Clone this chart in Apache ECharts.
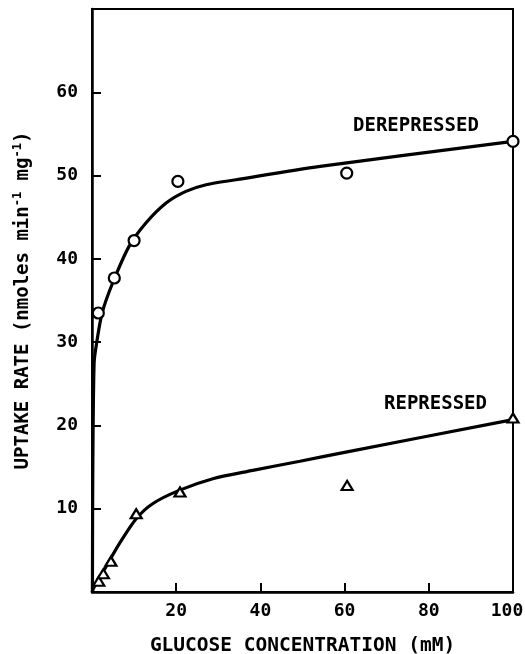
<!DOCTYPE html>
<html><head><meta charset="utf-8">
<script src="https://cdn.jsdelivr.net/npm/echarts@6/dist/echarts.min.js"></script>
<style>html,body{margin:0;padding:0;background:#fff}#c{width:525px;height:654px}</style>
</head><body><div id="c"></div>
<script>
// Measured points
const derepX = [1.5, 5.3, 10, 20.4, 60.5, 100];
const derepY = [33.5, 37.7, 42.2, 49.3, 50.3, 54.1];
const repX = [1.6, 2.7, 4.5, 10.5, 20.9, 60.6, 100];
const repY = [1.3, 2.2, 3.7, 9.4, 12.0, 12.8, 20.9];
// Hand-drawn fitted curves
const derepCurveX = [0.1, 0.2, 0.5, 0.95, 2.4, 4.9, 8.8, 12.8, 17.6, 22.3, 27.1, 34.2, 54.2, 100];
const derepCurveY = [0, 15.5, 27.5, 29.4, 33.5, 37.1, 41.5, 44.3, 46.7, 48.1, 48.9, 49.5, 51.1, 54.1];
const repCurveX = [0, 0.55, 3.3, 6.5, 10.5, 14.4, 20.7, 28.7, 38.2, 49.4, 60.3, 100];
const repCurveY = [0, 0.64, 3.0, 5.8, 8.8, 10.6, 12.2, 13.6, 14.6, 15.7, 16.8, 20.7];
// Tick labels
const xTickLabels = [20, 40, 60, 80, 100];
const yTickLabels = [10, 20, 30, 40, 50, 60];
const seriesNames = ['DEREPRESSED', 'REPRESSED'];

const zip = (a, b) => a.map((v, i) => [v, b[i]]);
const FONT = '"DejaVu Sans Mono", monospace';

const chart = echarts.init(document.getElementById('c'), null, {renderer: 'canvas'});
chart.setOption({
  animation: false,
  backgroundColor: '#fff',
  grid: {left: 92, right: 12, top: 9, bottom: 62, show: true, borderColor: '#000', borderWidth: 2,
    containLabel: false, outerBoundsMode: 'none'},
  xAxis: {
    type: 'value', min: 0, max: 100, interval: 20,
    name: 'GLUCOSE CONCENTRATION (mM)', nameLocation: 'middle', nameGap: 44,
    nameTextStyle: {fontFamily: FONT, fontWeight: 'bold', fontSize: 19.5, color: '#000'},
    axisLine: {show: true, onZero: false, lineStyle: {color: '#000', width: 2.5}},
    axisTick: {show: true, inside: true, length: 9, lineStyle: {color: '#000', width: 2}},
    axisLabel: {margin: 10, fontFamily: FONT, fontWeight: 'bold', fontSize: 18, color: '#000',
      formatter: v => !xTickLabels.includes(v) ? '' : (v === 100 ? '{r|' + v + '}' : String(v)),
      rich: {r: {fontFamily: FONT, fontWeight: 'bold', fontSize: 18, color: '#000', padding: [0, 12, 0, 0]}}},
    splitLine: {show: false}
  },
  yAxis: {
    type: 'value', min: 0, max: 70, interval: 10,
    name: 'UPTAKE RATE (nmoles min{sup|-1} mg{sup|-1})', nameLocation: 'middle', nameGap: 58,
    nameTextStyle: {fontFamily: FONT, fontWeight: 'bold', fontSize: 19, color: '#000',
      rich: {sup: {fontFamily: FONT, fontWeight: 'bold', fontSize: 12, color: '#000', verticalAlign: 'top', padding: [0, 0, 10, 0]}}},
    axisLine: {show: true, onZero: false, lineStyle: {color: '#000', width: 2.5}},
    axisTick: {show: true, inside: true, length: 9, lineStyle: {color: '#000', width: 2}},
    axisLabel: {margin: 14, fontFamily: FONT, fontWeight: 'bold', fontSize: 18, color: '#000',
      formatter: v => yTickLabels.includes(v) ? String(v) : ''},
    splitLine: {show: false}
  },
  series: [
    {name: seriesNames[0] + ' curve', type: 'line', data: zip(derepCurveX, derepCurveY), showSymbol: false,
      smooth: 0.3, lineStyle: {color: '#000', width: 3.2}, z: 2},
    {name: seriesNames[1] + ' curve', type: 'line', data: zip(repCurveX, repCurveY), showSymbol: false,
      smooth: 0.3, lineStyle: {color: '#000', width: 3.2}, z: 2},
    {name: seriesNames[0], type: 'scatter', data: zip(derepX, derepY), symbol: 'circle', symbolSize: 11,
      itemStyle: {color: '#fff', borderColor: '#000', borderWidth: 2.2, opacity: 1}, z: 3},
    {name: seriesNames[1], type: 'scatter', data: zip(repX, repY), symbol: 'triangle', symbolSize: [11, 9],
      itemStyle: {color: '#fff', borderColor: '#000', borderWidth: 2.2, opacity: 1}, z: 3}
  ],
  graphic: [
    {type: 'text', left: 353, top: 117, style: {text: seriesNames[0], font: 'bold 19px ' + FONT, fill: '#000'}},
    {type: 'text', left: 384, top: 395, style: {text: seriesNames[1], font: 'bold 19px ' + FONT, fill: '#000'}}
  ]
});
</script></body></html>
